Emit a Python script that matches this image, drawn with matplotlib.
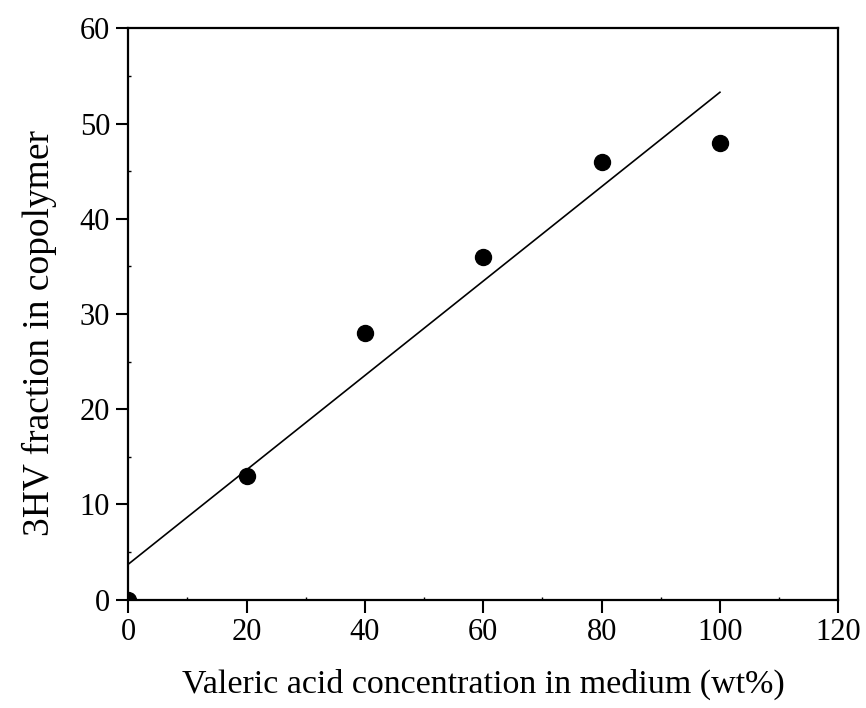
import numpy as np
import matplotlib
matplotlib.use("Agg")
import matplotlib.pyplot as plt
from matplotlib.ticker import MultipleLocator

# Valeric acid in medium (wt%) vs 3HV fraction in copolymer
valeric_acid = [0, 20, 40, 60, 80, 100]
hv_fraction = [0, 13, 28, 36, 46, 48]

plt.rcParams["font.family"] = ["Liberation Serif", "DejaVu Serif"]

fig = plt.figure(figsize=(8.66, 7.08), dpi=100)
ax = fig.add_axes([0.148, 0.153, 0.820, 0.807])

# Least-squares linear fit through the measurements
slope, intercept = np.polyfit(valeric_acid, hv_fraction, 1)
xfit = np.array([valeric_acid[0], valeric_acid[-1]])
ax.plot(xfit, slope * xfit + intercept, color="black", lw=1.2, zorder=2)

ax.plot(valeric_acid, hv_fraction, "o", color="black", markersize=11.5, zorder=3)

ax.set_xlim(0, 120)
ax.set_ylim(0, 60)
ax.xaxis.set_major_locator(MultipleLocator(20))
ax.yaxis.set_major_locator(MultipleLocator(10))
ax.xaxis.set_minor_locator(MultipleLocator(10))
ax.yaxis.set_minor_locator(MultipleLocator(5))
ax.tick_params(which="major", direction="out", length=9, width=1.5, labelsize=22, pad=4)
ax.tick_params(which="minor", direction="in", length=2, width=1)
for s in ax.spines.values():
    s.set_linewidth(1.6)

ax.set_xlabel("Valeric acid concentration in medium (wt%)", fontsize=24.5, labelpad=16)
ax.set_ylabel("3HV fraction in copolymer", fontsize=27)
ax.yaxis.set_label_coords(-0.10, 0.467)

fig.savefig("out.png", dpi=100)
